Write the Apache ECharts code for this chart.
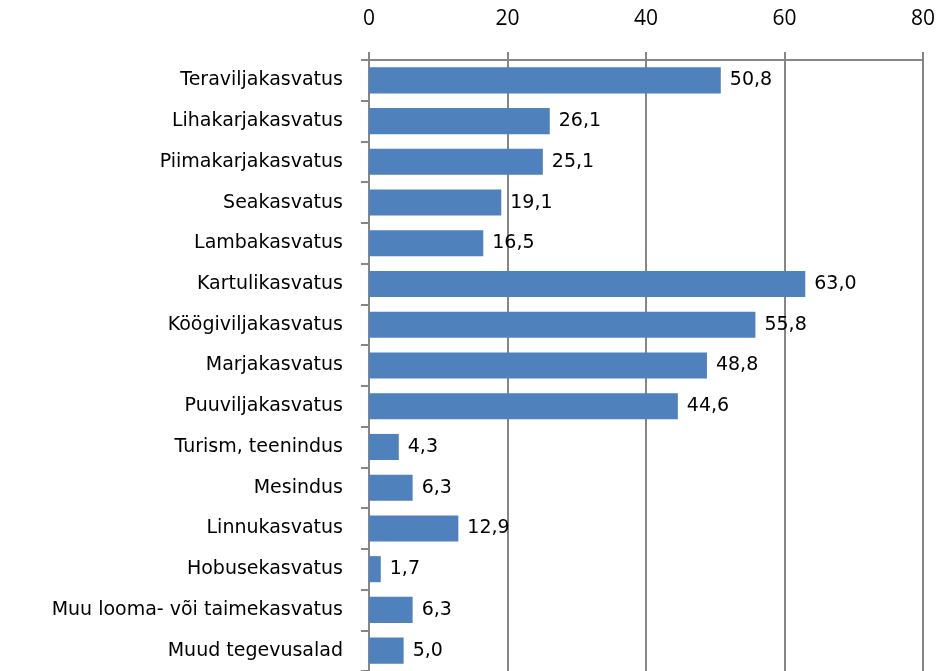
<!DOCTYPE html>
<html>
<head>
<meta charset="utf-8">
<script src="https://cdn.jsdelivr.net/npm/echarts@6/dist/echarts.min.js"></script>
<style>
    html, body { margin: 0; padding: 0; background: #fff; }
    #chart { width: 947px; height: 671px; }
</style>
</head>
<body>
<div id="chart"></div>
<script>
var categories = [
    "Teraviljakasvatus",
    "Lihakarjakasvatus",
    "Piimakarjakasvatus",
    "Seakasvatus",
    "Lambakasvatus",
    "Kartulikasvatus",
    "Köögiviljakasvatus",
    "Marjakasvatus",
    "Puuviljakasvatus",
    "Turism, teenindus",
    "Mesindus",
    "Linnukasvatus",
    "Hobusekasvatus",
    "Muu looma- või taimekasvatus",
    "Muud tegevusalad"
];
var values = [50.8, 26.1, 25.1, 19.1, 16.5, 63.0, 55.8, 48.8, 44.6, 4.3, 6.3, 12.9, 1.7, 6.3, 5.0];
var xTicks = [0, 20, 40, 60, 80];

var gridColor = '#868686';
var fontFam = '"Open Sans", "Noto Sans", sans-serif';
var wideFont = '"DejaVu Sans", "Open Sans", sans-serif';

var chart = echarts.init(document.getElementById('chart'));
chart.setOption({
    animation: false,
    grid: {
        left: 369,
        right: 24,
        top: 60,
        height: 612.6
    },
    xAxis: {
        type: 'value',
        position: 'top',
        min: xTicks[0],
        max: xTicks[xTicks.length - 1],
        interval: 20,
        axisLine: { show: true, lineStyle: { color: gridColor, width: 2 } },
        axisTick: { show: true, length: 8, lineStyle: { color: gridColor, width: 2 } },
        splitLine: { show: true, lineStyle: { color: gridColor, width: 2 } },
        axisLabel: {
            margin: 30,
            color: '#000',
            fontSize: 21,
            fontFamily: fontFam
        }
    },
    yAxis: {
        type: 'category',
        inverse: true,
        data: categories,
        axisLine: { show: true, lineStyle: { color: gridColor, width: 2 } },
        axisTick: { show: true, length: 8, lineStyle: { color: gridColor, width: 2 } },
        axisLabel: {
            margin: 26,
            color: '#000',
            fontSize: 19,
            fontFamily: wideFont
        }
    },
    series: [{
        type: 'bar',
        data: values,
        barCategoryGap: '36%',
        itemStyle: { color: '#4F81BD' },
        label: {
            show: true,
            position: 'right',
            distance: 9,
            color: '#000',
            fontSize: 19,
            fontFamily: wideFont,
            formatter: function (p) {
                return p.value.toFixed(1).replace('.', ',');
            }
        }
    }]
});
</script>
</body>
</html>
